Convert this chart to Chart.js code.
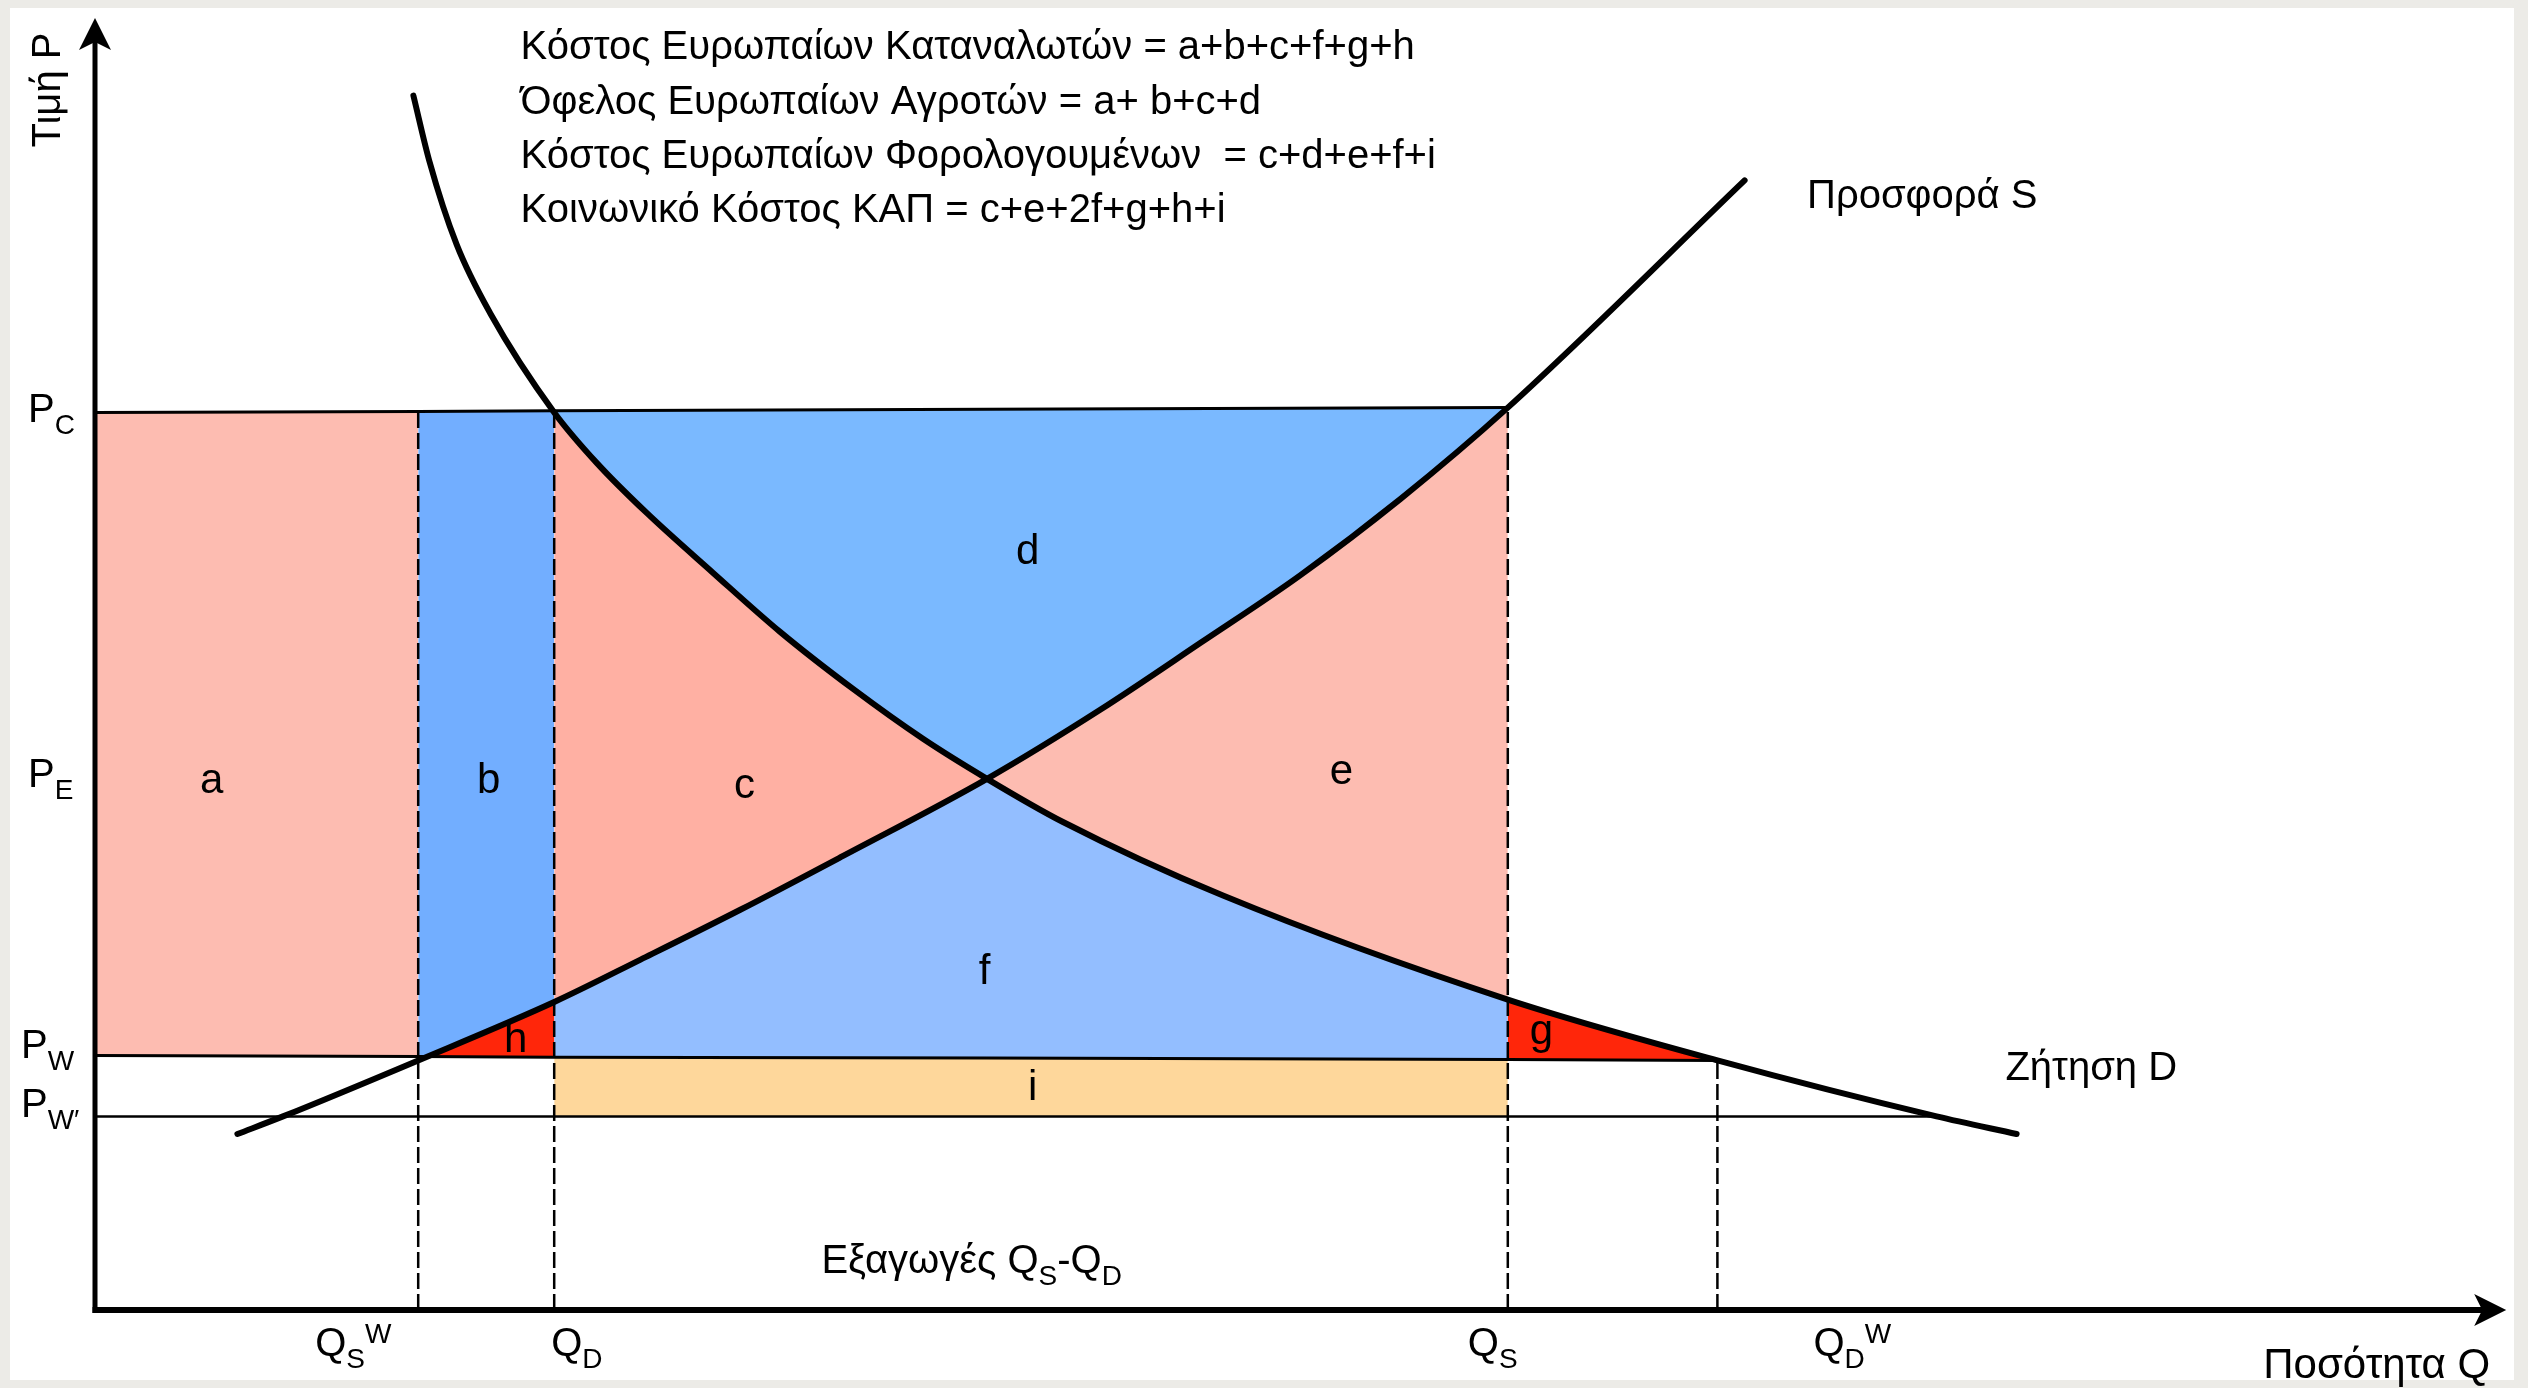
<!DOCTYPE html>
<html>
<head>
<meta charset="utf-8">
<script src="https://cdn.jsdelivr.net/npm/chart.js@4.4.1/dist/chart.umd.min.js"></script>
<style>
  html, body { margin: 0; padding: 0; background: #ecebe7; overflow: hidden; }
  canvas { display: block; }
</style>
</head>
<body>
<canvas id="cap" width="2528" height="1388" style="width:2528px;height:1388px"></canvas>
<script>
// Supply S and demand D curves (quantity Q, price P)
const supplyQ = [8.9, 11.75, 20.2, 28.7, 34.1, 40.3, 46.6, 55.75, 62.8, 69.1, 75.3, 81.6, 88.3, 103.1];
const supplyP = [11.0, 12.1, 15.6, 19.25, 21.9, 25.0, 28.3, 33.2, 37.5, 41.7, 45.9, 50.7, 56.4, 70.6];
const demandQ = [19.9, 20.9, 22.6, 24.7, 28.7, 31.4, 34.5, 38.6, 42.8, 47.4, 51.75, 55.75, 60.5, 70.5, 88.3, 101.4, 115.1, 120.1];
const demandP = [75.9, 71.8, 66.6, 62.3, 56.1, 52.9, 49.8, 46.1, 42.4, 38.8, 35.7, 33.2, 30.5, 25.9, 19.4, 15.6, 12.1, 11.0];

// quantities marked on the Q axis
const QSW = 20.2, QD = 28.7, QE = 55.75, QS = 88.3, QDW = 101.4;

// price lines (they lean a little in the original drawing)
const pcQ = [0, QSW, QD, QE, QS];
const pcP = [56.1, 56.15, 56.2, 56.3, 56.4];
const pwQ = [0, QSW, QD, QE, QS, QDW];
const pwP = [15.9, 15.85, 15.8, 15.75, 15.65, 15.6];
const pw2Q = [0, QD, QS, 115.1];
const pw2P = [12.1, 12.1, 12.1, 12.1];
const PE = 33.2;

const formulas = [
  'Κόστος Ευρωπαίων Καταναλωτών = a+b+c+f+g+h',
  'Όφελος Ευρωπαίων Αγροτών = a+ b+c+d',
  'Κόστος Ευρωπαίων Φορολογουμένων  = c+d+e+f+i',
  'Κοινωνικό Κόστος ΚΑΠ = c+e+2f+g+h+i'
];

const colA = '#FDBCB1', colB = '#72AEFF', colC = '#FFB0A3', colD = '#7AB9FF',
      colE = '#FDBCB1', colF = '#93BEFF', colRed = '#FF260A', colI = '#FED79B';

const pts = (qs, ps) => qs.map((q, i) => ({ x: q, y: ps[i] }));
const part = (qs, ps, q0, q1) => pts(qs, ps).filter(p => p.x >= q0 && p.x <= q1);

function line(data, width, extra) {
  return Object.assign({ data, borderColor: '#000', borderWidth: width, fill: false, pointRadius: 0 }, extra || {});
}
function area(data, target, color) {
  return { data, borderWidth: 0, borderColor: 'transparent', backgroundColor: color, fill: target, pointRadius: 0 };
}

const S_IDX = 0, D_IDX = 1, PW_IDX = 3;
const curve = { cubicInterpolationMode: 'monotone', borderCapStyle: 'round' };
const dash = { borderDash: [16, 5] };

// first dataset is painted last (on top)
const datasets = [
  line(pts(supplyQ, supplyP), 6, curve),
  line(pts(demandQ, demandP), 6, curve),
  line(pts(pcQ, pcP), 3),
  line(pts(pwQ, pwP), 3),
  line(pts(pw2Q, pw2P), 2.5),
  line([{ x: QSW, y: 0 }, { x: QSW, y: pcP[1] }], 2.5, dash),
  line([{ x: QD, y: 0 }, { x: QD, y: pcP[2] }], 2.5, dash),
  line([{ x: QS, y: 0 }, { x: QS, y: pcP[4] }], 2.5, dash),
  line([{ x: QDW, y: 0 }, { x: QDW, y: pwP[5] }], 2.5, dash),
  area(part(pwQ, pwP, QSW, QD), S_IDX, colRed),     // h
  area(part(pwQ, pwP, QS, QDW), D_IDX, colRed),     // g
  area(part(pcQ, pcP, QD, QE), D_IDX, colD),        // d, left of E
  area(part(pcQ, pcP, QE, QS), S_IDX, colD),        // d, right of E
  area(part(pwQ, pwP, QD, QE), S_IDX, colF),        // f, left of E
  area(part(pwQ, pwP, QE, QS), D_IDX, colF),        // f, right of E
  area(part(pw2Q, pw2P, QD, QS), PW_IDX, colI),     // i
  area(part(pcQ, pcP, 0, QSW), PW_IDX, colA),       // a
  area(part(pcQ, pcP, QSW, QD), PW_IDX, colB),      // b
  area(part(pcQ, pcP, QD, QE), PW_IDX, colC),       // c
  area(part(pcQ, pcP, QE, QS), PW_IDX, colE)        // e
];

const FONT = '"Liberation Sans", Arial, Helvetica, sans-serif';

// text placed in data units [q, p]
const regionNames = ['a', 'b', 'c', 'd', 'e', 'f', 'g', 'h', 'i'];
const regionAt = [[7.3, 32.3], [24.6, 32.3], [40.6, 32.0], [58.3, 46.6], [77.9, 32.9],
                  [55.6, 20.4], [90.4, 16.6], [26.3, 16.1], [58.6, 13.1]];

// price tick labels: [main, sub, value, dx from axis (px), dy (px)]
const pTicks = [
  ['P', 'C', pcP[0], -67, 10],
  ['P', 'E', PE, -67, 8],
  ['P', 'W', pwP[0], -74, 2],
  ['P', 'W\u2032', pw2P[0], -74, 1]
];
// quantity tick labels: [main, sub, sup, value, dx (px)]
const qTicks = [
  ['Q', 'S', 'W', QSW, -103],
  ['Q', 'D', '', QD, -3],
  ['Q', 'S', '', QS, -40],
  ['Q', 'D', 'W', QDW, 96]
];

function drawRich(c, parts, x, y, size, small) {
  let cx = x;
  parts.forEach(([t, kind]) => {
    const s = kind ? small : size;
    c.font = s + 'px ' + FONT;
    const dy = kind === 'sub' ? 12 : kind === 'sup' ? -13 : 0;
    c.fillText(t, cx, y + dy);
    cx += c.measureText(t).width;
  });
}

function arrow(c, tx, ty, dx, dy) {
  // dx, dy: unit direction of the arrow
  const L = 32, W = 16, N = 24;
  const nx = -dy, ny = dx;
  c.beginPath();
  c.moveTo(tx, ty);
  c.lineTo(tx - dx * L + nx * W, ty - dy * L + ny * W);
  c.lineTo(tx - dx * N, ty - dy * N);
  c.lineTo(tx - dx * L - nx * W, ty - dy * L - ny * W);
  c.closePath();
  c.fill();
}

const decor = {
  id: 'decor',
  beforeDraw(chart) {
    const c = chart.ctx;
    c.save();
    c.fillStyle = '#ecebe7';
    c.fillRect(0, 0, chart.width, chart.height);
    c.fillStyle = '#ffffff';
    c.fillRect(10, 8, 2504, 1372);
    c.restore();
  },
  afterDatasetsDraw(chart) {
    const c = chart.ctx;
    const X = v => chart.scales.x.getPixelForValue(v);
    const Y = v => chart.scales.y.getPixelForValue(v);
    const x0 = X(0), y0 = Y(0);
    c.save();
    c.strokeStyle = '#000';
    c.fillStyle = '#000';
    c.lineCap = 'butt';

    // axes
    c.lineWidth = 5;
    c.beginPath(); c.moveTo(x0, y0 + 3); c.lineTo(x0, Y(80.75) + 20); c.stroke();
    arrow(c, x0, Y(80.75), 0, -1);
    c.lineWidth = 6;
    c.beginPath(); c.moveTo(x0 - 2.5, y0); c.lineTo(X(150.7) - 20, y0); c.stroke();
    arrow(c, X(150.7), y0, 1, 0);

    c.textBaseline = 'alphabetic';
    c.textAlign = 'left';

    // formulas
    c.font = '40px ' + FONT;
    const fp = [78.2, 74.75, 71.4, 68.0];
    formulas.forEach((t, i) => c.fillText(t, X(26.6), Y(fp[i])));

    // curve names
    c.font = '40px ' + FONT;
    c.fillText('Προσφορά S', X(107.0), Y(68.9));
    c.fillText('Ζήτηση D', X(119.4), Y(14.4));
    c.textAlign = 'right';
    c.font = '42px ' + FONT;
    c.fillText('Ποσότητα Q', X(149.7), Y(-4.25));
    c.textAlign = 'left';

    // axis title
    c.save();
    c.translate(X(-2.19), Y(76.25));
    c.rotate(-Math.PI / 2);
    c.textAlign = 'center';
    c.font = '40px ' + FONT;
    c.fillText('Τιμή P', 0, 0);
    c.restore();

    // exports note
    drawRich(c, [['Εξαγωγές Q'], ['S', 'sub'], ['-Q'], ['D', 'sub']], X(45.4), Y(2.31), 40, 28);

    // price ticks
    pTicks.forEach(([m, s, v, dx, dy]) => drawRich(c, [[m], [s, 'sub']], x0 + dx, Y(v) + dy, 40, 28));
    // quantity ticks
    qTicks.forEach(([m, s, u, v, dx]) => {
      const parts = [[m], [s, 'sub']];
      if (u) parts.push([u, 'sup']);
      drawRich(c, parts, X(v) + dx, y0 + 46, 40, 28);
    });

    // region letters
    c.textAlign = 'center';
    c.font = '42px ' + FONT;
    regionNames.forEach((n, i) => c.fillText(n, X(regionAt[i][0]), Y(regionAt[i][1])));
    c.restore();
  }
};

new Chart(document.getElementById('cap'), {
  type: 'line',
  data: { datasets },
  options: {
    responsive: false,
    animation: false,
    devicePixelRatio: 1,
    layout: { padding: { left: 95, right: 17, top: 14, bottom: 78 } },
    plugins: { legend: { display: false }, tooltip: { enabled: false } },
    scales: {
      x: { type: 'linear', min: 0, max: 151, display: false },
      y: { type: 'linear', min: 0, max: 81, display: false }
    }
  },
  plugins: [decor]
});
</script>
</body>
</html>
